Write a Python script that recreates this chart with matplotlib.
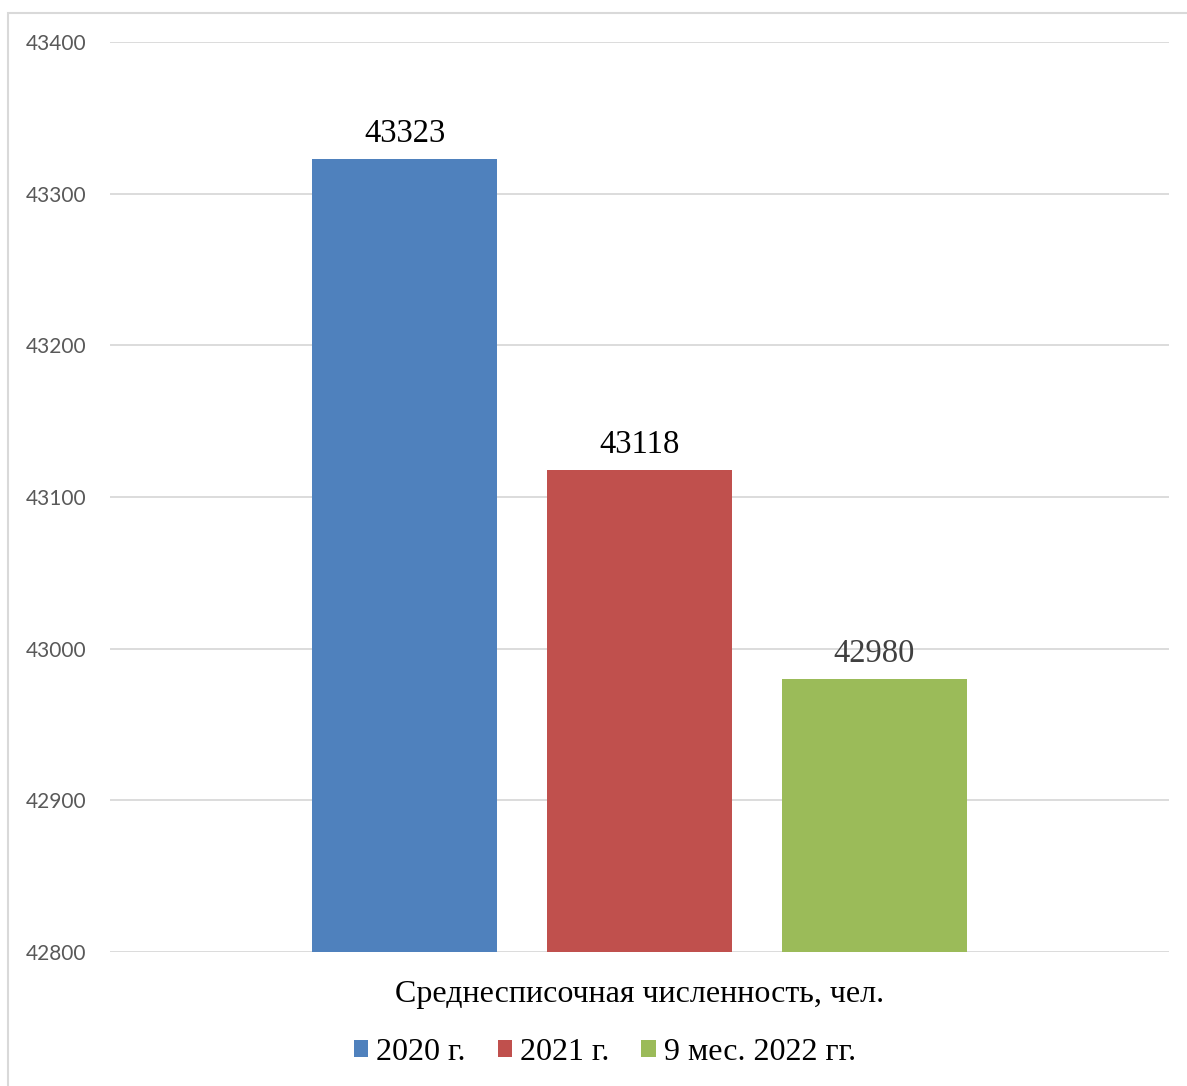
import matplotlib
matplotlib.use("Agg")
import matplotlib.pyplot as plt
from matplotlib.patches import Rectangle, Patch

category = "Среднесписочная численность, чел."
series_names = ["2020 г.", "2021 г.", "9 мес. 2022 гг."]
values = [43323, 43118, 42980]
colors = ["#4F81BD", "#C0504D", "#9BBB59"]
label_colors = ["#000000", "#000000", "#404040"]
y_ticks = [42800, 42900, 43000, 43100, 43200, 43300, 43400]

serif = ["Liberation Serif", "DejaVu Serif"]

figure = plt.figure(figsize=(11.87, 10.86), dpi=100)
axes = figure.add_axes([0.0927, 0.1234, 0.8922, 0.8379])

# chart border (light gray frame)
figure.patches.append(Rectangle((8 / 1187, -0.05), 1.2, 0.05 + 1 - 13 / 1086,
                                transform=figure.transFigure, fill=False,
                                edgecolor="#d9d9d9", linewidth=1.5))

bar_width = 0.1747
offsets = [-0.2219, 0.0, 0.2214]
for name, value, color, lcolor, dx in zip(series_names, values, colors, label_colors, offsets):
    axes.bar(dx, value - y_ticks[0], bottom=y_ticks[0], width=bar_width,
             color=color, label=name, zorder=2)
    axes.annotate(str(value), (dx, value), xytext=(0, 7), textcoords="offset points",
                  ha="center", va="bottom", fontsize=23.5, family=serif,
                  color=lcolor, zorder=4)

axes.set_xlim(-0.5, 0.5)
axes.set_ylim(y_ticks[0], y_ticks[-1])
axes.set_yticks(y_ticks)
axes.yaxis.grid(True, color="#d9d9d9", linewidth=1.3, zorder=0)
axes.set_axisbelow(True)
for spine in axes.spines.values():
    spine.set_visible(False)
axes.tick_params(axis="y", length=0, pad=17, labelsize=15, labelcolor="#595959")
for lab in axes.get_yticklabels():
    lab.set_family(["Lato", "DejaVu Sans"])

axes.set_xticks([0])
axes.set_xticklabels([category], fontsize=23, family=serif)
axes.tick_params(axis="x", length=0, pad=20)

handles = [Patch(facecolor=c, edgecolor="none") for c in colors]
figure.legend(handles, series_names, loc="center", bbox_to_anchor=(605 / 1187, 1 - 1052 / 1086),
              ncol=3, frameon=False, prop={"family": serif, "size": 23},
              handlelength=0.45, handleheight=0.45, handletextpad=0.25, columnspacing=1.0)

figure.savefig("out.png", dpi=100)
